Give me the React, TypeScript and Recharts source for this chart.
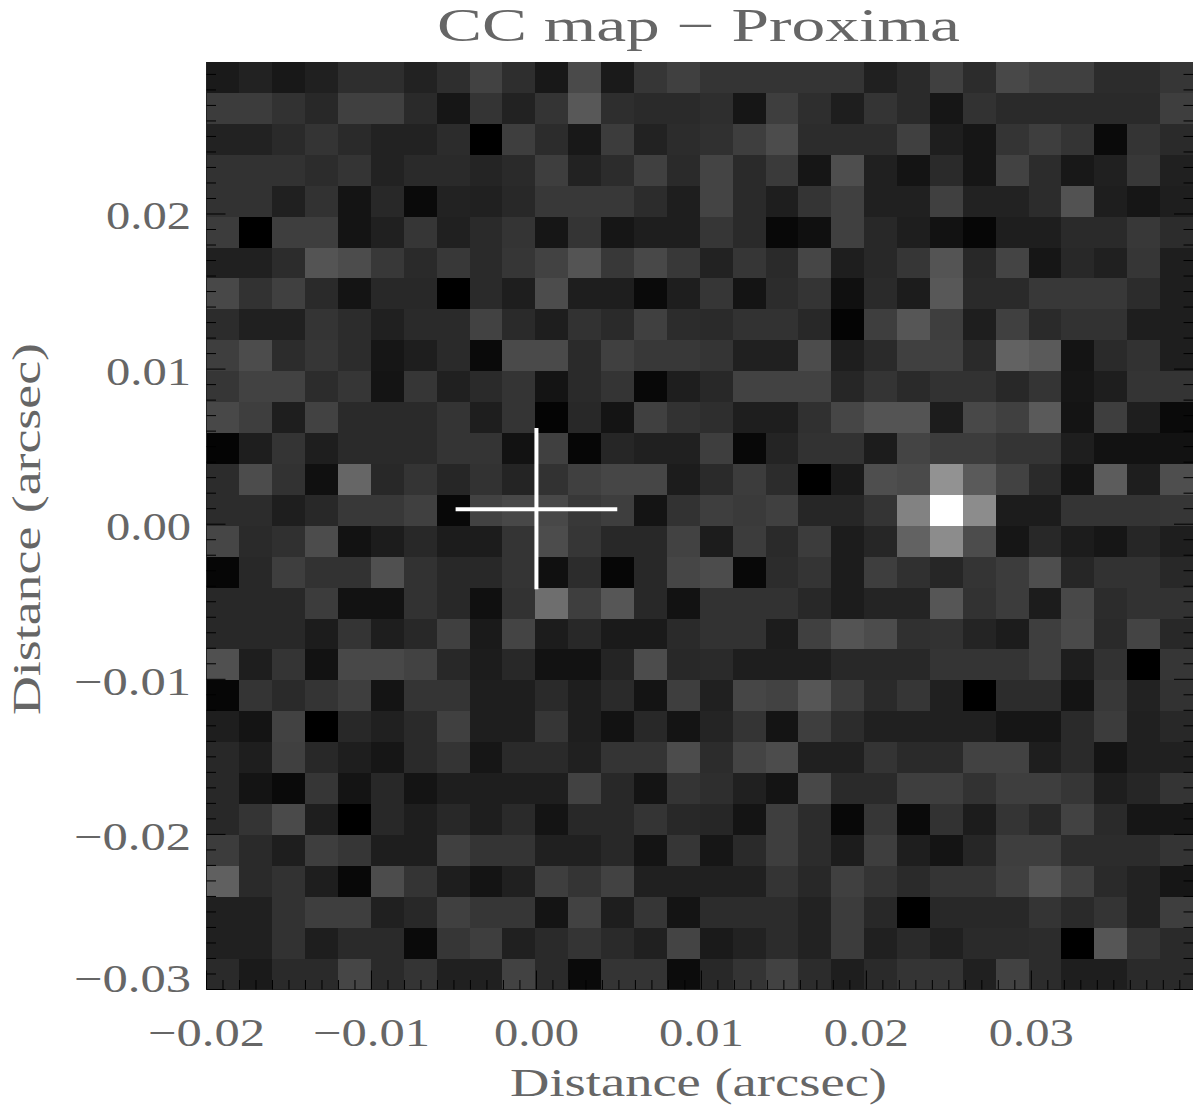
import React from 'react';
import { ScatterChart, Scatter, XAxis, YAxis, ReferenceLine } from 'recharts';

// gray level (0-255) of each map cell, top row first
const row00 = [26,34,24,32,46,46,34,46,66,46,24,74,26,54,64,52,52,52,52,52,32,42,64,44,72,64,64,44,44,54];
const row01 = [60,60,50,40,64,64,42,22,52,34,52,88,46,42,42,46,22,62,46,30,52,42,22,50,42,42,42,42,42,62];
const row02 = [34,34,42,52,42,34,34,44,0,62,44,24,60,34,44,48,62,76,44,44,44,64,30,22,52,62,52,10,52,42];
const row03 = [50,50,50,44,52,34,42,42,36,42,62,34,44,64,42,68,42,58,22,78,32,20,42,22,66,44,24,32,56,32];
const row04 = [50,50,32,50,20,40,10,34,32,40,56,56,56,44,30,68,42,30,52,64,32,32,64,34,34,44,82,30,22,30];
const row05 = [60,0,62,62,20,32,54,32,42,52,22,52,22,30,30,54,42,8,16,64,40,30,18,6,30,30,42,42,56,44];
const row06 = [32,32,44,84,76,56,42,56,42,54,66,84,56,72,56,34,54,42,70,30,40,54,84,40,68,22,40,32,54,30];
const row07 = [72,50,64,42,20,40,40,0,42,30,76,30,30,10,30,54,20,44,52,16,42,28,88,42,42,56,56,56,44,30];
const row08 = [44,32,32,52,44,32,42,42,66,42,30,50,42,64,44,42,50,50,40,4,62,86,62,30,64,42,50,50,30,30];
const row09 = [62,76,44,54,44,22,30,42,10,74,74,42,64,56,56,52,32,32,76,30,42,64,64,42,98,90,20,42,50,30];
const row10 = [54,66,66,44,54,20,54,32,42,52,20,42,52,8,30,40,66,66,66,38,52,42,50,50,40,52,22,30,52,52];
const row11 = [72,62,30,66,42,42,42,52,30,52,4,40,20,64,50,46,30,30,48,70,84,84,28,72,64,90,20,62,30,10];
const row12 = [4,30,52,30,42,42,42,52,52,18,64,6,38,32,32,62,8,36,50,50,28,68,60,60,52,52,30,18,18,18];
const row13 = [44,76,50,16,102,40,52,38,50,36,50,64,70,70,28,42,60,44,0,26,78,74,146,90,66,42,20,92,30,78];
const row14 = [44,44,30,40,56,56,64,8,66,72,72,56,62,20,50,62,58,64,38,38,52,130,255,140,28,28,52,52,52,54];
const row15 = [70,42,48,76,18,28,40,28,28,52,76,54,40,40,66,28,60,42,60,28,38,98,140,76,22,40,28,22,38,30];
const row16 = [6,40,62,50,50,80,50,40,40,52,16,44,6,40,70,76,8,44,52,28,62,48,38,52,60,78,38,50,50,40];
const row17 = [40,40,40,60,18,18,50,40,16,50,110,62,86,40,18,50,50,50,40,28,36,36,86,50,60,28,72,44,50,50];
const row18 = [40,40,40,28,52,30,40,64,26,68,28,40,26,26,42,50,50,28,64,84,76,48,50,36,28,62,74,42,68,40];
const row19 = [80,30,52,18,72,72,66,40,28,40,18,18,36,76,40,42,30,30,30,40,40,40,52,52,52,62,30,50,0,54];
const row20 = [6,52,42,52,62,20,52,52,30,30,42,30,42,20,62,32,70,66,86,60,42,54,32,0,44,44,20,56,34,50];
const row21 = [30,20,66,0,40,32,42,64,30,30,54,30,18,40,20,36,52,20,62,44,32,32,32,32,22,22,42,60,32,40];
const row22 = [40,30,64,40,30,22,42,52,22,42,42,32,52,52,76,44,68,76,32,32,52,42,42,66,66,30,42,20,32,32];
const row23 = [40,20,10,54,20,40,20,30,30,30,30,66,40,20,52,46,32,20,72,42,42,62,62,50,62,62,54,30,38,52];
const row24 = [40,52,74,30,0,40,30,40,30,42,20,40,40,52,40,38,20,62,44,8,54,10,50,28,52,40,66,42,22,22];
const row25 = [60,42,30,62,54,30,30,64,52,52,32,32,40,20,54,22,42,62,44,28,62,30,20,38,62,62,44,44,44,52];
const row26 = [96,42,50,30,8,76,52,30,20,32,62,52,66,32,32,32,32,52,40,64,52,42,52,52,64,84,64,42,34,22];
const row27 = [32,32,50,62,62,32,40,64,54,54,20,66,30,54,20,44,44,44,34,60,40,0,40,40,40,52,42,52,34,62];
const row28 = [32,32,50,30,42,42,10,54,62,32,42,52,42,32,68,26,34,44,34,60,32,42,32,42,42,44,0,86,52,42];
const row29 = [42,26,42,42,70,42,52,32,32,66,42,10,52,52,12,40,52,66,44,30,42,52,52,32,66,44,30,30,42,42];

const mapRows = [
  row00, row01, row02, row03, row04, row05, row06, row07, row08, row09,
  row10, row11, row12, row13, row14, row15, row16, row17, row18, row19,
  row20, row21, row22, row23, row24, row25, row26, row27, row28, row29,
];

const xRange = [-0.02, 0.0398];
const yRange = [-0.03, 0.0298];
const xMajorLabels = { '-20': '\u22120.02', '-10': '\u22120.01', '0': '0.00', '10': '0.01', '20': '0.02', '30': '0.03' };
const yMajorLabels = { '-30': '\u22120.03', '-20': '\u22120.02', '-10': '\u22120.01', '0': '0.00', '10': '0.01', '20': '0.02' };
const xTicks = Array.from({ length: 60 }, (_, i) => (i - 20) / 1000);
const yTicks = Array.from({ length: 60 }, (_, i) => (i - 30) / 1000);

const W = 1200;
const H = 1111;
const LEFT = 206.5;
const RIGHT = 7;
const TOP = 62;
const BOTTOM = 121.5;
const cellW = (W - LEFT - RIGHT) / 30;
const cellH = (H - TOP - BOTTOM) / 30;

const cells = mapRows.flatMap((row, r) =>
  row.map((gray, c) => ({
    x: xRange[0] + ((c + 0.5) * (xRange[1] - xRange[0])) / 30,
    y: yRange[1] - ((r + 0.5) * (yRange[1] - yRange[0])) / 30,
    gray,
  })),
);

const FONT = '"Liberation Serif", serif';
const TEXT = '#666666';
const MAJOR = 19;
const MINOR = 9.5;

const CellShape = (props: any) => {
  const g = props.payload.gray;
  return (
    <rect
      x={props.cx - cellW / 2}
      y={props.cy - cellH / 2}
      width={cellW + 0.4}
      height={cellH + 0.4}
      fill={`rgb(${g},${g},${g})`}
      shapeRendering="crispEdges"
    />
  );
};

const key = (v: number) => String(Math.round(v * 1000));

const XTick = (props: any) => {
  const { x, y, payload, side } = props;
  const label = xMajorLabels[key(payload.value)];
  const len = label ? MAJOR : MINOR;
  const dir = side === 'top' ? 1 : -1;
  return (
    <g>
      <line x1={x} x2={x} y1={y} y2={y + dir * len} stroke="#000" strokeWidth={1} />
      {label && side !== 'top' && (
        <text
          x={x}
          y={y + 56}
          textAnchor="middle"
          fontFamily={FONT}
          fontSize={40}
          fill={TEXT}
          textLength={label.length > 4 ? 117 : 85}
          lengthAdjust="spacingAndGlyphs"
        >
          {label}
        </text>
      )}
    </g>
  );
};

const YTick = (props: any) => {
  const { x, y, payload, side } = props;
  const label = yMajorLabels[key(payload.value)];
  const len = label ? MAJOR : MINOR;
  const dir = side === 'right' ? -1 : 1;
  // the lowest label sits above its tick in the original plot
  const labelY = key(payload.value) === '-30' ? y + 2 : y + 15.5;
  return (
    <g>
      <line x1={x} x2={x + dir * len} y1={y} y2={y} stroke="#000" strokeWidth={1} />
      {label && side !== 'right' && (
        <text
          x={x - 15.5}
          y={labelY}
          textAnchor="end"
          fontFamily={FONT}
          fontSize={40}
          fill={TEXT}
          textLength={label.length > 4 ? 117 : 85}
          lengthAdjust="spacingAndGlyphs"
        >
          {label}
        </text>
      )}
    </g>
  );
};

export default function App() {
  return (
    <div style={{ position: 'absolute', left: 0, top: 0, width: W, height: H, background: '#fff' }}>
      <ScatterChart width={W} height={H} margin={{ top: 0, right: 0, bottom: 0, left: 0 }}>
        <XAxis
          xAxisId="bottom"
          type="number"
          dataKey="x"
          domain={xRange}
          ticks={xTicks}
          interval={0}
          height={BOTTOM}
          tickSize={0}
          tickMargin={0}
          tickLine={false}
          axisLine={{ stroke: '#222' }}
          tick={<XTick side="bottom" />}
          allowDataOverflow
          zIndex={700}
        />
        <XAxis
          xAxisId="top"
          orientation="top"
          type="number"
          domain={xRange}
          ticks={xTicks}
          interval={0}
          height={TOP}
          tickSize={0}
          tickMargin={0}
          tickLine={false}
          axisLine={false}
          tick={<XTick side="top" />}
          allowDataOverflow
          zIndex={700}
        />
        <YAxis
          yAxisId="left"
          type="number"
          dataKey="y"
          domain={yRange}
          ticks={yTicks}
          interval={0}
          width={LEFT}
          tickSize={0}
          tickMargin={0}
          tickLine={false}
          axisLine={{ stroke: '#222' }}
          tick={<YTick side="left" />}
          allowDataOverflow
          zIndex={700}
        />
        <YAxis
          yAxisId="right"
          orientation="right"
          type="number"
          domain={yRange}
          ticks={yTicks}
          interval={0}
          width={RIGHT}
          tickSize={0}
          tickMargin={0}
          tickLine={false}
          axisLine={false}
          tick={<YTick side="right" />}
          allowDataOverflow
          zIndex={700}
        />
        <Scatter
          data={cells}
          xAxisId="bottom"
          yAxisId="left"
          shape={CellShape}
          isAnimationActive={false}
        />
        <ReferenceLine
          xAxisId="bottom"
          yAxisId="left"
          segment={[{ x: -0.0049, y: 0.00097 }, { x: 0.0049, y: 0.00097 }]}
          stroke="#fff"
          strokeWidth={4}
          zIndex={800}
        />
        <ReferenceLine
          xAxisId="bottom"
          yAxisId="left"
          segment={[{ x: 0, y: -0.0042 }, { x: 0, y: 0.0062 }]}
          stroke="#fff"
          strokeWidth={4}
          zIndex={800}
        />
        <text x={698.5} y={41} textAnchor="middle" fontFamily={FONT} fontSize={46} fill={TEXT} textLength={523} lengthAdjust="spacingAndGlyphs">
          CC map {'\u2212'} Proxima
        </text>
        <text x={698.5} y={1096} textAnchor="middle" fontFamily={FONT} fontSize={40} fill={TEXT} textLength={377} lengthAdjust="spacingAndGlyphs">
          Distance (arcsec)
        </text>
        <text x={40} y={529} transform="rotate(-90 40 529)" textAnchor="middle" fontFamily={FONT} fontSize={40} fill={TEXT} textLength={372} lengthAdjust="spacingAndGlyphs">
          Distance (arcsec)
        </text>
      </ScatterChart>
    </div>
  );
}
